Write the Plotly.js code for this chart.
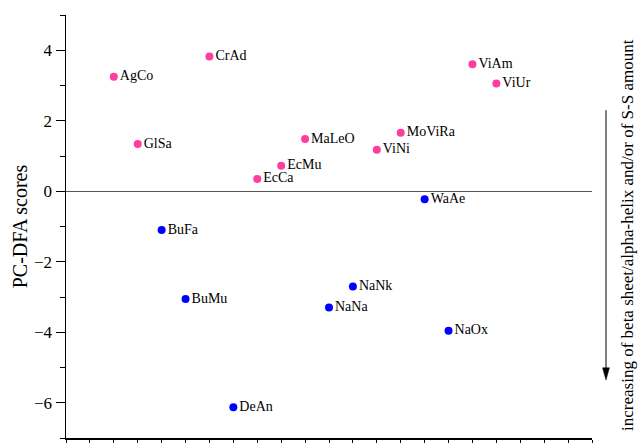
<!DOCTYPE html>
<html>
<head>
<meta charset="utf-8">
<script src="https://cdn.plot.ly/plotly-3.0.1.min.js"></script>
<style>html,body{margin:0;padding:0;background:#fff;}#chart{width:641px;height:443px;}</style>
</head>
<body>
<div id="chart"></div>
<script>
// Group 1 (pink)
var pinkNames = ["AgCo", "GlSa", "CrAd", "EcCa", "EcMu", "MaLeO", "ViNi", "MoViRa", "ViAm", "ViUr"];
var pinkX     = [2, 3, 6, 8, 9, 10, 13, 14, 17, 18];
var pinkY     = [3.25, 1.34, 3.82, 0.35, 0.72, 1.48, 1.18, 1.66, 3.60, 3.06];
// Group 2 (blue)
var blueNames = ["BuFa", "BuMu", "DeAn", "NaNa", "NaNk", "WaAe", "NaOx"];
var blueX     = [4, 5, 7, 11, 12, 15, 16];
var blueY     = [-1.10, -3.06, -6.13, -3.30, -2.70, -0.23, -3.96];
var yTitle = "PC-DFA scores";
var sideNote = "increasing of beta sheet/alpha-helix and/or of S-S amount";

var serif = "Liberation Serif, Times New Roman, serif";

function trace(xs, ys, names, color) {
  return {
    type: "scatter", mode: "markers+text",
    x: xs, y: ys, text: names,
    textposition: "middle right",
    textfont: {family: serif, size: 14, color: "#000"},
    marker: {color: color, size: 8},
    cliponaxis: false,
    hoverinfo: "none"
  };
}

var data = [
  trace(pinkX, pinkY, pinkNames, "#ff3d9e"),
  trace(blueX, blueY, blueNames, "#0000ff")
];

var ax = 1.0266; // arrow x in paper units
var layout = {
  width: 641, height: 443,
  margin: {l: 66, r: 49, t: 15, b: 5},
  paper_bgcolor: "#fff", plot_bgcolor: "#fff",
  showlegend: false,
  font: {family: serif, color: "#000"},
  xaxis: {
    range: [0, 22], tick0: 0, dtick: 1,
    showgrid: false, zeroline: false,
    showline: true, linecolor: "#000", linewidth: 1.5,
    ticks: "outside", ticklen: 8, tickwidth: 1, tickcolor: "#000",
    showticklabels: false
  },
  yaxis: {
    range: [-7, 5], tick0: 0, dtick: 2,
    showgrid: false,
    zeroline: true, zerolinecolor: "#555", zerolinewidth: 1,
    showline: true, linecolor: "#000", linewidth: 1.5,
    ticks: "outside", ticklen: 9, tickwidth: 1, tickcolor: "#000",
    minor: {dtick: 1, tick0: 0, ticks: "outside", ticklen: 5, tickcolor: "#000", showgrid: false},
    tickfont: {family: serif, size: 17, color: "#000"},
    title: {text: yTitle, font: {family: serif, size: 20, color: "#000"}, standoff: 1}
  },
  annotations: [
    {
      xref: "paper", yref: "paper", x: 1.0684, y: 0.48,
      text: sideNote, textangle: -90, showarrow: false,
      font: {family: serif, size: 17, color: "#000"},
      xanchor: "center", yanchor: "middle"
    }
  ],
  shapes: [
    {type: "line", xref: "paper", yref: "paper", x0: ax, x1: ax, y0: 0.775, y1: 0.16,
     line: {color: "#000", width: 1}},
    {type: "path", xref: "paper", yref: "paper",
     path: "M " + (ax - 0.0065) + " 0.166 L " + (ax + 0.0065) + " 0.166 L " + ax + " 0.137 Z",
     fillcolor: "#000", line: {color: "#000", width: 0.5}}
  ]
};

Plotly.newPlot("chart", data, layout, {staticPlot: true, displayModeBar: false});
</script>
</body>
</html>
